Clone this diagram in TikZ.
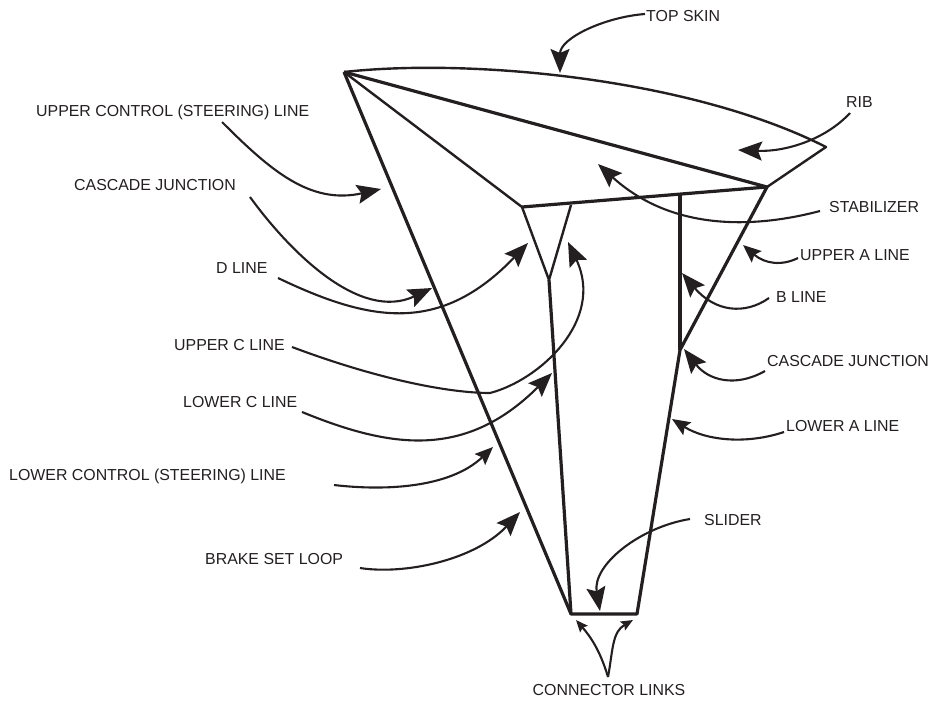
\documentclass[tikz,border=0pt]{standalone}
\usepackage{fontspec}
\setmainfont{Liberation Sans}
\usetikzlibrary{arrows.meta}
\definecolor{ink}{HTML}{231F20}
\tikzset{
  lab/.style={font=\fontsize{15.9}{18}\selectfont,text=ink,inner sep=0pt,anchor=west},
  thickl/.style={draw=ink,line width=3.2pt,line join=round},
  thinl/.style={draw=ink,line width=2.4pt,line join=round},
  big/.style={draw=ink,line width=2.1pt,-{Stealth[length=24pt,width=19pt,inset=4pt,fill=ink]}},
  mid/.style={draw=ink,line width=2.1pt,-{Stealth[length=18pt,width=15pt,inset=3pt,fill=ink]}},
  small/.style={draw=ink,line width=2.1pt,-{Stealth[length=12pt,width=10pt,inset=2pt,fill=ink]}}
}
\begin{document}
\begin{tikzpicture}[x=1pt,y=-1pt]
\useasboundingbox (0,0) rectangle (931,702);
% canopy and lines
\coordinate (apex) at (344,72);
\coordinate (tail) at (826,147);
\coordinate (lead) at (767,187);
\coordinate (dtop) at (522,207);
\coordinate (ctop) at (571,205);
\coordinate (cjoin) at (549,280);
\coordinate (sl) at (571,614);
\coordinate (sr) at (637,614);
\coordinate (casc) at (680,350);
\coordinate (btop) at (680,195);
\draw[thinl] (apex) .. controls (470,58) and (690,78) .. (tail) -- (lead);
\draw[thickl] (apex) -- (lead) -- (dtop);
\draw[thinl] (apex) -- (dtop) -- (cjoin) -- (ctop);
\draw[thickl] (apex) -- (sl) -- (sr) -- (casc) -- (lead);
\draw[thickl] (cjoin) -- (sl);
\draw[thickl] (btop) -- (casc);
% labels
\node[lab] (ltop) at (646,16.5) {TOP SKIN};
\node[lab] (lrib) at (846,102) {RIB};
\node[lab] (lstab) at (829,207) {STABILIZER};
\node[lab] (lua) at (800,255) {UPPER A LINE};
\node[lab] (lb) at (776,297) {B LINE};
\node[lab] (lcr) at (767,361.5) {CASCADE JUNCTION};
\node[lab] (lla) at (786,426) {LOWER A LINE};
\node[lab] (lsl) at (704,520) {SLIDER};
\node[lab,anchor=center] (lcl) at (609,690) {CONNECTOR LINKS};
\node[lab] (luc) at (36,112) {UPPER CONTROL (STEERING) LINE};
\node[lab] (lcl2) at (74,185) {CASCADE JUNCTION};
\node[lab] (ld) at (216,268) {D LINE};
\node[lab] (luc2) at (174,345) {UPPER C LINE};
\node[lab] (llc) at (183,402) {LOWER C LINE};
\node[lab] (llcs) at (9,476) {LOWER CONTROL (STEERING) LINE};
\node[lab] (lbs) at (205,559) {BRAKE SET LOOP};
% arrow ends
\coordinate (s1) at (645,14);   \coordinate (t1) at (560,73);
\coordinate (s2) at (850,113);  \coordinate (t2) at (738,150);
\coordinate (s3) at (820,211);  \coordinate (t3) at (598,164);
\coordinate (s4) at (798,258);  \coordinate (t4) at (743,245);
\coordinate (s5) at (769,298);  \coordinate (t5) at (682,273);
\coordinate (s6) at (765,371);  \coordinate (t6) at (684,349);
\coordinate (s7) at (784,432);  \coordinate (t7) at (672,419);
\coordinate (s8) at (690,519);  \coordinate (t8) at (600,611);
\coordinate (s9) at (608,677);  \coordinate (t9a) at (576,620); \coordinate (t9b) at (633,620);
\coordinate (s10) at (360,568); \coordinate (t10) at (520,512);
\coordinate (s11) at (334,485); \coordinate (t11) at (493,447);
\coordinate (s12) at (302,412); \coordinate (t12) at (552,373);
\coordinate (s13) at (292,347); \coordinate (t13) at (568,242);
\coordinate (s14) at (278,278); \coordinate (t14) at (528,243);
\coordinate (s15) at (250,197); \coordinate (t15) at (432,288);
\coordinate (s16) at (222,122); \coordinate (t16) at (381,189);
% arrows
\draw[big] (s1) .. controls (605,17) and (560,38) .. (t1);
\draw[big] (s2) .. controls (825,140) and (785,152) .. (t2);
\draw[big] (s3) .. controls (740,232) and (665,225) .. (t3);
\draw[mid] (s4) .. controls (782,266) and (765,264) .. (t4);
\draw[big] (s5) .. controls (745,315) and (715,312) .. (t5);
\draw[big] (s6) .. controls (735,388) and (708,380) .. (t6);
\draw[mid] (s7) .. controls (745,445) and (705,440) .. (t7);
\draw[big] (s8) .. controls (640,527) and (592,565) .. (t8);
\draw[small] (s9) .. controls (600,650) and (590,636) .. (t9a);
\draw[small] (s9) .. controls (613,650) and (612,632) .. (t9b);
\draw[big] (s10) .. controls (405,575) and (475,560) .. (t10);
\draw[mid] (s11) .. controls (385,491) and (450,488) .. (t11);
\draw[big] (s12) .. controls (390,448) and (465,460) .. (t12);
\draw[big] (s13) .. controls (380,380) and (450,393) .. (490,393) .. controls (540,380) and (605,320) .. (t13);
\draw[big] (s14) .. controls (370,322) and (440,335) .. (t14);
\draw[big] (s15) .. controls (290,252) and (360,322) .. (t15);
\draw[big] (s16) .. controls (270,170) and (310,205) .. (t16);
\end{tikzpicture}
\end{document}
